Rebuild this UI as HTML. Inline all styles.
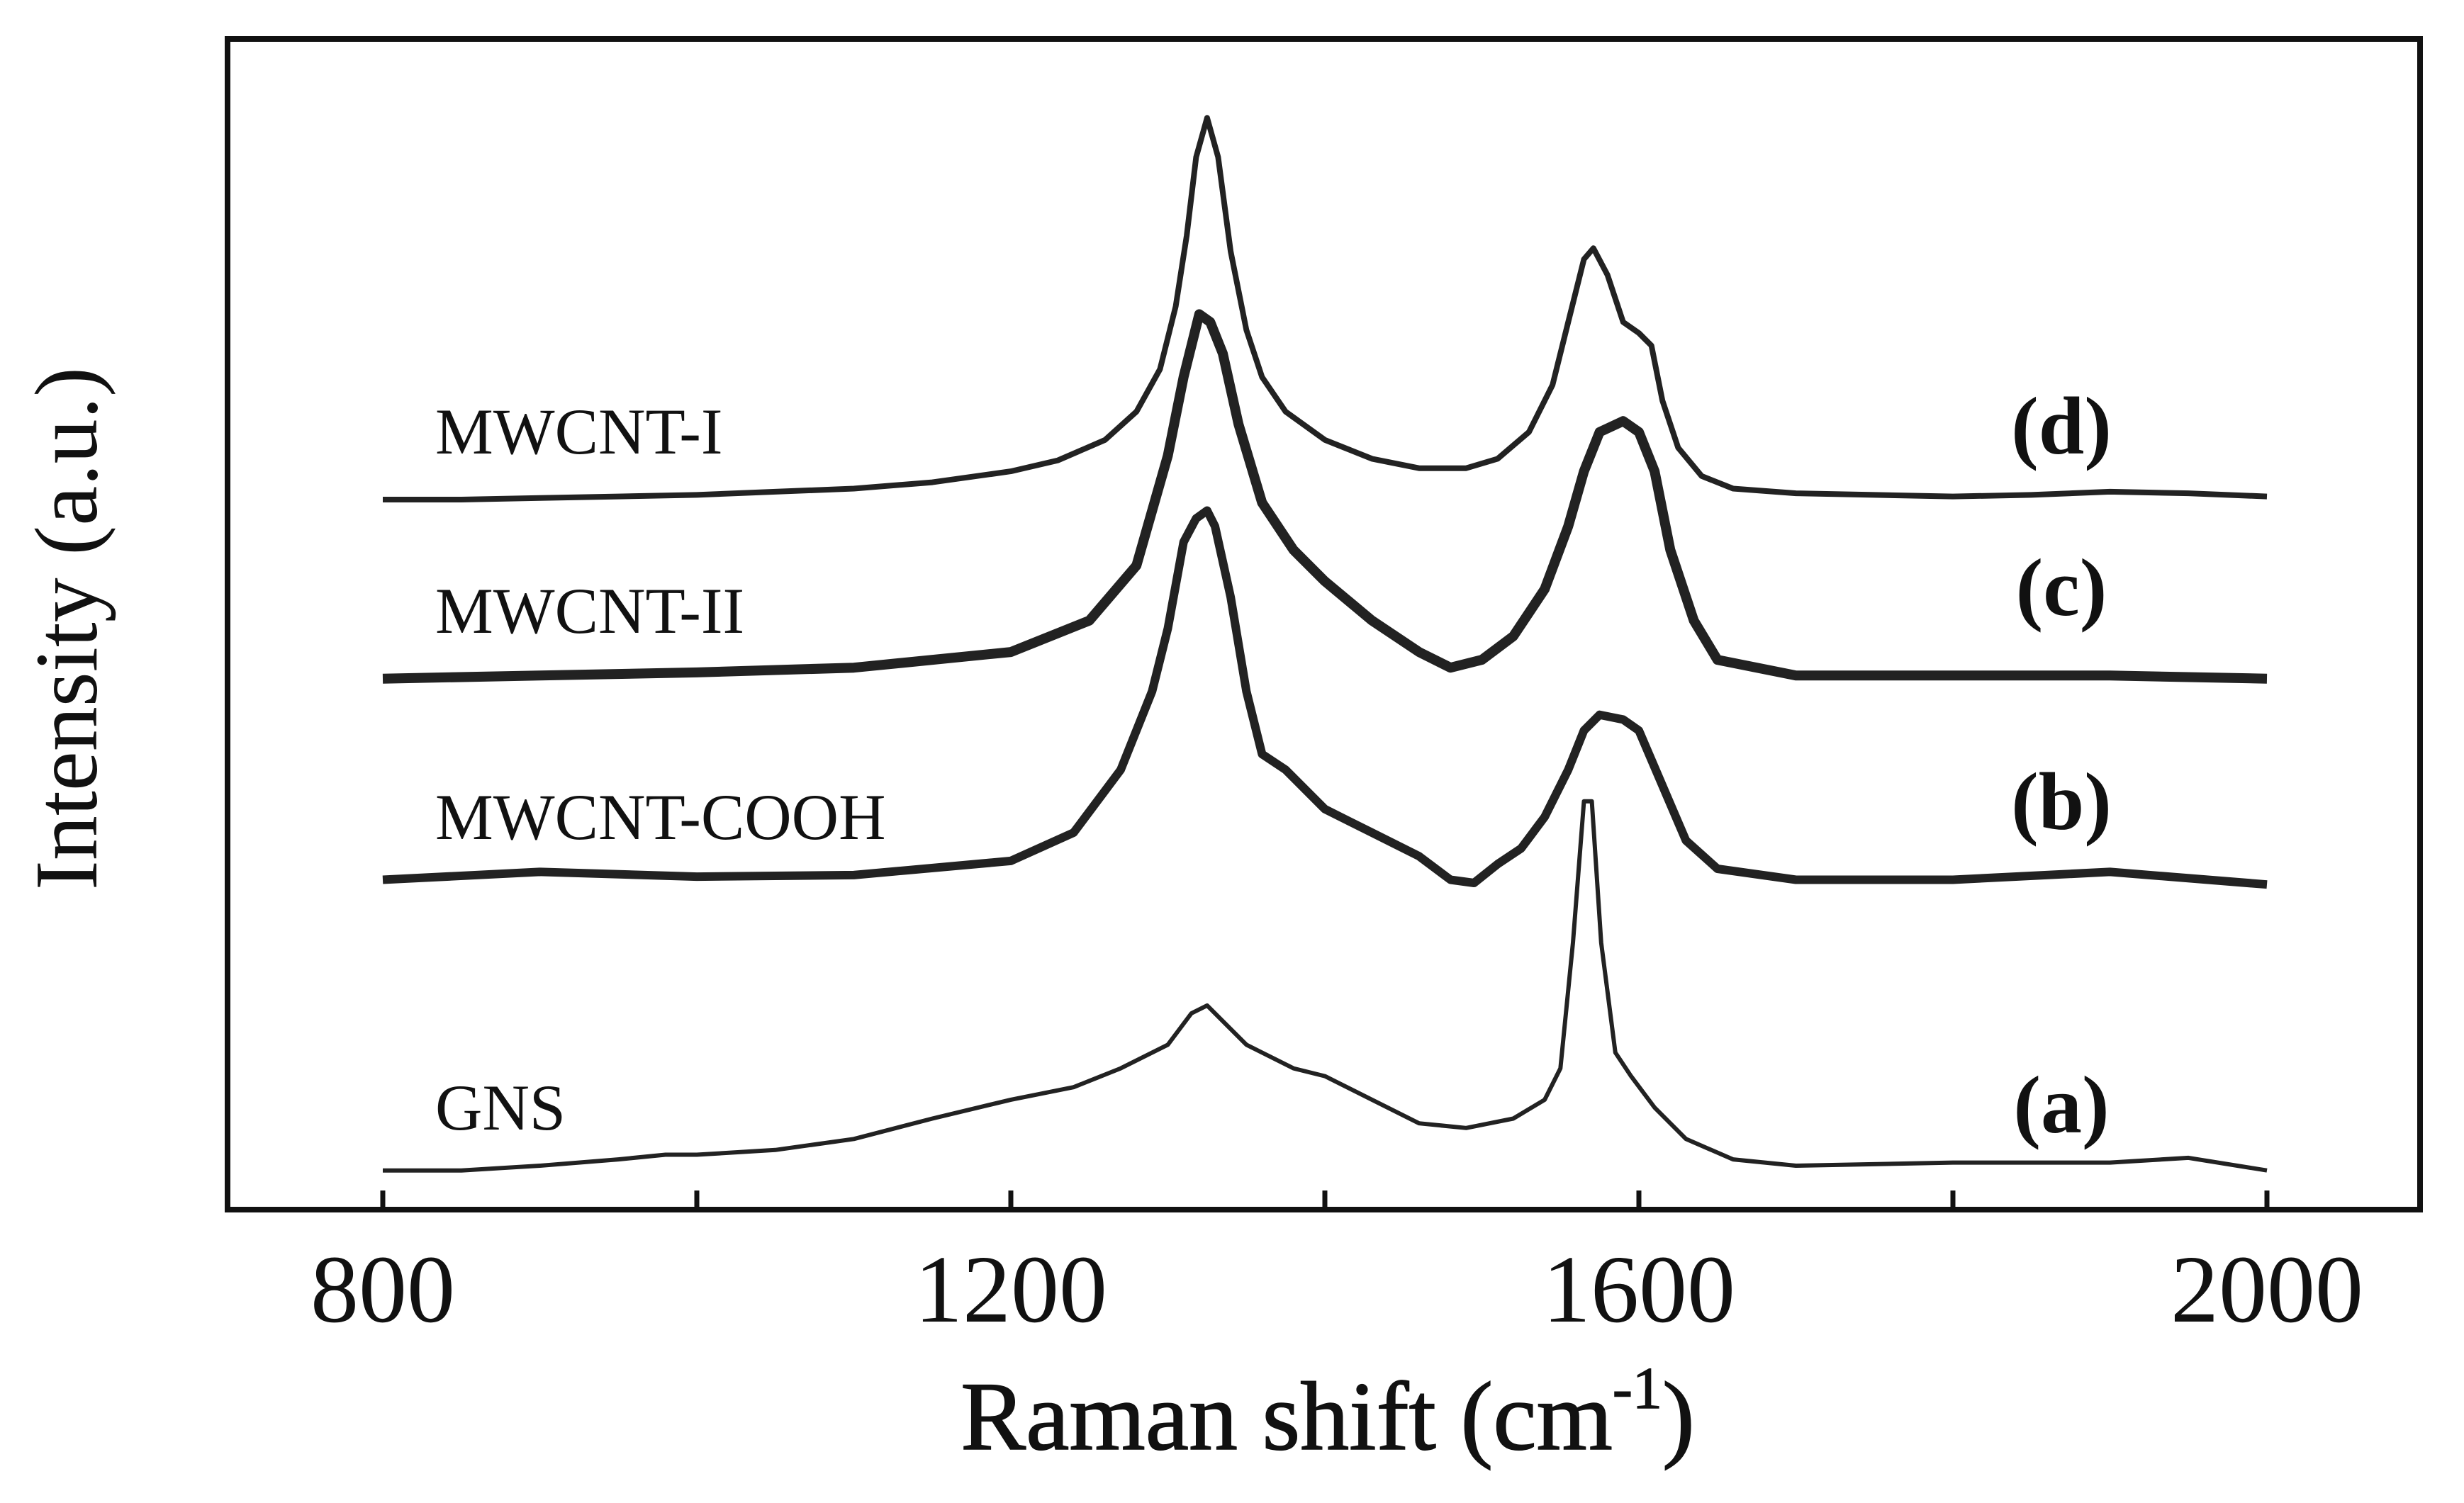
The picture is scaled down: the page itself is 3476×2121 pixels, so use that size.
<!DOCTYPE html>
<html><head><meta charset="utf-8"><style>
html,body{margin:0;padding:0;background:#fff;}
svg{display:block;}
text{font-family:"Liberation Serif",serif;fill:#111;}
</style></head><body>
<svg id="chart" width="3476" height="2121" viewBox="0 0 3476 2121" xmlns="http://www.w3.org/2000/svg">
<rect x="321" y="55" width="3093" height="1652" fill="none" stroke="#111" stroke-width="8"/>
<g id="ticks"></g>
<g id="series"></g>
<text x="1873" y="2045" font-size="138" text-anchor="middle" stroke="#111" stroke-width="1.5">Raman shift (cm<tspan font-size="84" dy="-58">-1</tspan><tspan dy="58">)</tspan></text>
<text transform="translate(136,887) rotate(-90)" font-size="126" text-anchor="middle">Intensity (a.u.)</text>
<text x="614" y="640" font-size="92">MWCNT-I</text>
<text x="614" y="893" font-size="92">MWCNT-II</text>
<text x="614" y="1184" font-size="92">MWCNT-COOH</text>
<text x="614" y="1594" font-size="92">GNS</text>
<text x="2908" y="640" font-size="116" font-weight="bold" text-anchor="middle">(d)</text>
<text x="2908" y="868" font-size="116" font-weight="bold" text-anchor="middle">(c)</text>
<text x="2908" y="1170" font-size="116" font-weight="bold" text-anchor="middle">(b)</text>
<text x="2908" y="1598" font-size="116" font-weight="bold" text-anchor="middle">(a)</text>
</svg>
<script>
// x: Raman shift (cm^-1); values: vertical offset-plot position (depth units, stacked)
const xTicks=[800,1000,1200,1400,1600,1800,2000];
const xTickLabels=["800","1200","1600","2000"];
const xD=[800,850,900,950,1000,1050,1100,1150,1200,1230,1260,1280,1295,1305,1312,1318,1325,1332,1340,1350,1360,1375,1400,1430,1460,1490,1510,1530,1545,1555,1565,1571,1580,1590,1600,1608,1615,1625,1640,1660,1700,1750,1800,1850,1900,1950,2000];
const yD=[318,318,317,316,315,313,311,307,300,293,280,262,235,195,150,100,75,100,160,210,240,262,280,292,298,298,292,275,245,205,165,158,175,205,212,220,255,285,303,311,314,315,316,315,313,314,316];
const xC=[800,900,1000,1100,1200,1250,1280,1300,1310,1320,1327,1335,1345,1360,1380,1400,1430,1460,1480,1500,1520,1540,1555,1565,1575,1590,1600,1610,1620,1635,1650,1700,1800,1900,2000];
const yC=[432,430,428,425,415,395,360,290,240,200,205,225,270,320,350,370,395,415,425,420,405,375,335,300,275,268,275,300,350,395,420,430,430,430,432];
const xB=[800,900,1000,1100,1200,1240,1270,1290,1300,1310,1318,1325,1330,1340,1350,1360,1375,1400,1430,1460,1480,1495,1510,1525,1540,1555,1565,1575,1590,1600,1615,1630,1650,1700,1800,1900,2000];
const yB=[560,555,558,557,548,530,490,440,400,345,330,325,335,380,440,480,490,515,530,545,560,562,550,540,520,490,465,455,458,465,500,535,553,560,560,555,563];
const xA=[800,850,900,950,980,1000,1050,1100,1150,1200,1240,1270,1300,1315,1325,1335,1350,1380,1400,1430,1460,1490,1520,1540,1550,1558,1565,1570,1576,1585,1595,1610,1630,1660,1700,1800,1900,1950,2000];
const yA=[745,745,742,738,735,735,732,725,712,700,692,680,665,645,640,650,665,680,685,700,715,718,712,700,680,600,510,510,600,670,685,705,725,738,742,740,740,737,745];

const NS='http://www.w3.org/2000/svg';
function xs(v){return 540+(v-800)*(3198-540)/1200;}
function ys(v){return v*2.217;}
const tg=document.getElementById('ticks');
xTicks.forEach(t=>{
  const l=document.createElementNS(NS,'line');
  
  
  l.setAttribute('x1',xs(t));l.setAttribute('x2',xs(t));
  l.setAttribute('y1',1707);l.setAttribute('y2',1680);
  l.setAttribute('stroke','#111');l.setAttribute('stroke-width','7');
  tg.appendChild(l);
});
xTickLabels.forEach(s=>{
  const t=document.createElementNS(NS,'text');
  
  
  t.setAttribute('x',xs(+s));t.setAttribute('y',1865);
  t.setAttribute('font-size','136');t.setAttribute('text-anchor','middle');
  t.textContent=s;tg.appendChild(t);
});
const sg=document.getElementById('series');
[[xD,yD,'series-mwcnt-i',8],[xC,yC,'series-mwcnt-ii',14],[xB,yB,'series-mwcnt-cooh',12],[xA,yA,'series-gns',6]].forEach(([X,Y,n,w])=>{
  const p=document.createElementNS(NS,'path');
  
  
  p.setAttribute('d',X.map((x,i)=>(i?'L':'M')+xs(x).toFixed(1)+','+ys(Y[i]).toFixed(1)).join(''));
  p.setAttribute('fill','none');p.setAttribute('stroke','#222');
  p.setAttribute('stroke-width',w);p.setAttribute('stroke-linejoin','round');
  sg.appendChild(p);
});
</script>
</body></html>
